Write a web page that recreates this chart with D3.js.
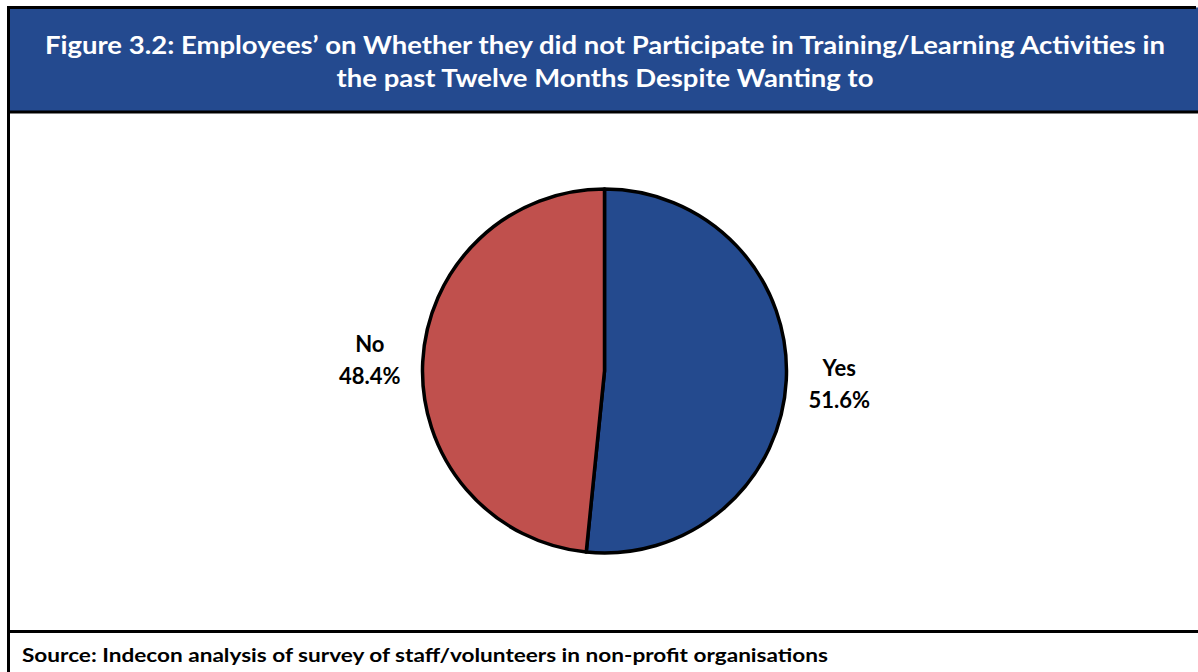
<!DOCTYPE html>
<html>
<head>
<meta charset="utf-8">
<script src="https://cdn.jsdelivr.net/npm/d3@7"></script>
<style>
  html, body { margin: 0; padding: 0; background: #fff; }
  svg { display: block; }
</style>
</head>
<body>
<svg id="chart" width="1198" height="672"></svg>
<script>
// Survey responses
const categories = ["Yes", "No"];
const shares = [51.6, 48.4];
const sliceColors = ["#244A8E", "#C0504D"];

const titleLines = [
  "Figure 3.2: Employees\u2019 on Whether they did not Participate in Training/Learning Activities in",
  "the past Twelve Months Despite Wanting to"
];
const sourceText = "Source: Indecon analysis of survey of staff/volunteers in non-profit organisations";

const W = 1198, H = 672;
const svg = d3.select("#chart");
const fontFamily = "Lato, 'Open Sans', 'Liberation Sans', sans-serif";

// Header band
svg.append("rect")
  .attr("x", 8.5).attr("y", 7.5)
  .attr("width", W).attr("height", 104.5)
  .attr("fill", "#244A8F");

// Frame lines
const frame = svg.append("g").attr("stroke", "#000").attr("stroke-width", 3).attr("fill", "none");
frame.append("line").attr("x1", 7).attr("x2", 1196).attr("y1", 7.5).attr("y2", 7.5);
frame.append("line").attr("x1", 8.5).attr("x2", 8.5).attr("y1", 6).attr("y2", H);
frame.append("line").attr("x1", 7).attr("x2", W).attr("y1", 112).attr("y2", 112);
frame.append("line").attr("x1", 7).attr("x2", W).attr("y1", 631.5).attr("y2", 631.5);

// Title: tall bold type, condensed to fit the header width
const titleSize = 25;
const titleG = svg.append("g")
  .attr("font-family", fontFamily)
  .attr("font-weight", "bold")
  .attr("font-size", titleSize)
  .attr("fill", "#fff")
  .attr("text-anchor", "middle");
const titleBaselines = [53.5, 87];
const titleNodes = titleG.selectAll("text").data(titleLines).join("text")
  .attr("x", 605)
  .attr("y", (d, i) => titleBaselines[i])
  .text(d => d);
const natural = titleNodes.nodes().map(n => n.getComputedTextLength());
const squeeze = 1120 / natural[0];
titleNodes
  .attr("lengthAdjust", "spacingAndGlyphs")
  .attr("textLength", (d, i) => natural[i] * squeeze);

// Source note
const src = svg.append("text")
  .attr("x", 22).attr("y", 662)
  .attr("font-family", fontFamily)
  .attr("font-weight", "bold")
  .attr("font-size", 19)
  .attr("fill", "#000")
  .text(sourceText);
src.attr("lengthAdjust", "spacingAndGlyphs").attr("textLength", 806);

// Pie
const cx = 604.5, cy = 371, r = 182;
const data = categories.map((c, i) => ({ label: c, value: shares[i], color: sliceColors[i] }));
const pie = d3.pie().sort(null).value(d => d.value).startAngle(0).endAngle(2 * Math.PI);
const arc = d3.arc().innerRadius(0).outerRadius(r);
const labelArc = d3.arc().innerRadius(235).outerRadius(235);

const pg = svg.append("g").attr("transform", `translate(${cx},${cy})`);
pg.selectAll("path").data(pie(data)).join("path")
  .attr("d", arc)
  .attr("fill", d => d.data.color)
  .attr("stroke", "#000")
  .attr("stroke-width", 3.5)
  .attr("stroke-linejoin", "round");

const lab = pg.selectAll("g.lab").data(pie(data)).join("g")
  .attr("class", "lab")
  .attr("transform", d => `translate(${labelArc.centroid(d)})`)
  .attr("font-family", fontFamily)
  .attr("font-weight", "bold")
  .attr("font-size", 22)
  .attr("fill", "#000")
  .attr("text-anchor", "middle");
lab.append("text").attr("y", -7).text(d => d.data.label);
lab.append("text").attr("y", 25).text(d => d.data.value.toFixed(1) + "%");
</script>
</body>
</html>
